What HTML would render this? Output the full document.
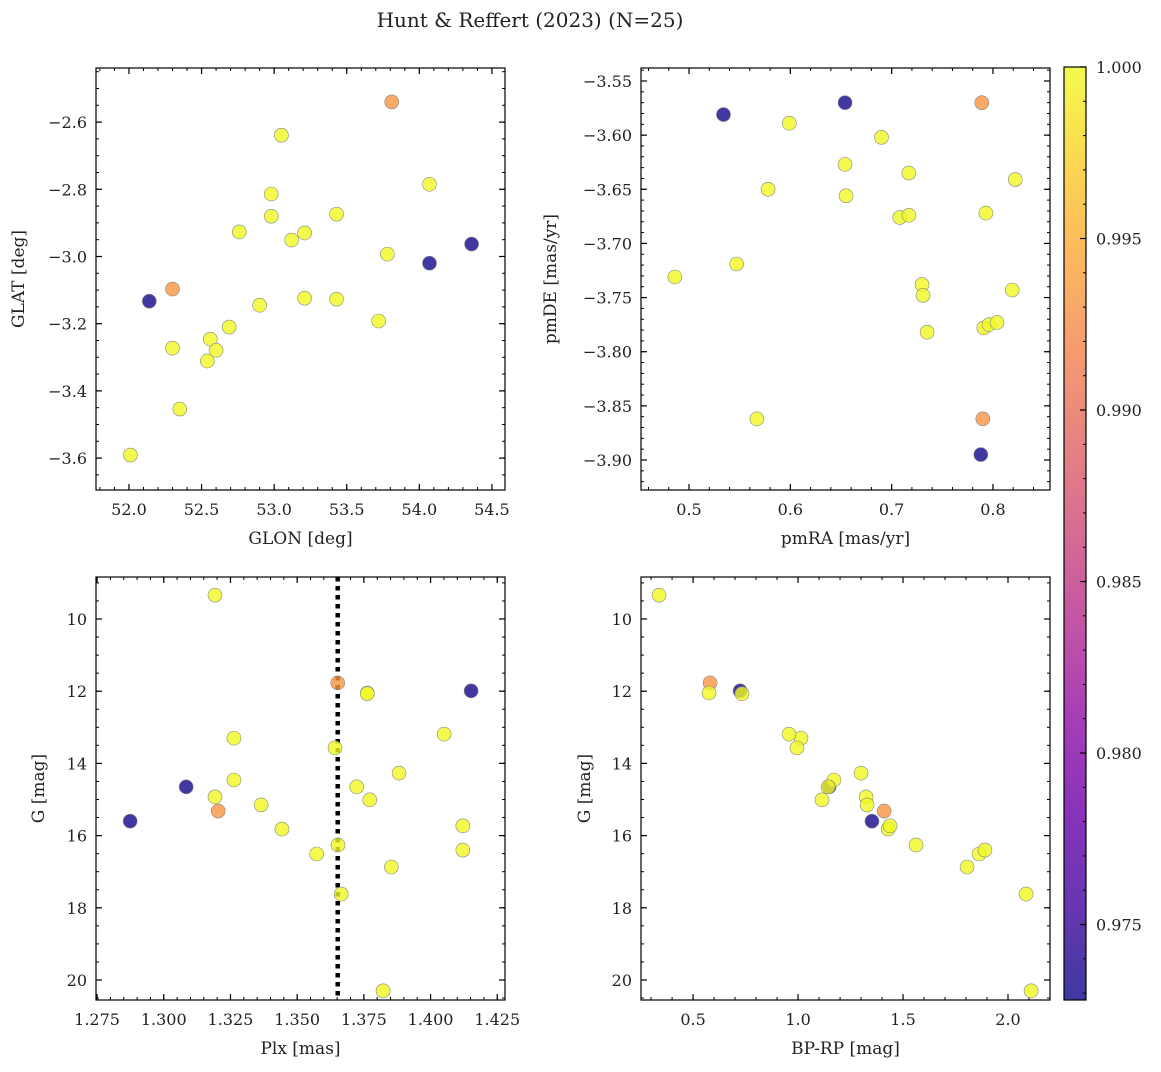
<!DOCTYPE html>
<html><head><meta charset="utf-8"><style>
body{margin:0;background:#fff;}
svg text{font-family:"DejaVu Serif","Liberation Serif",serif;fill:#222;}
</style></head><body>
<svg id="fig" width="1161" height="1067" xmlns="http://www.w3.org/2000/svg">
<text x="530" y="27" font-size="20" text-anchor="middle">Hunt &amp; Reffert (2023) (N=25)</text>
</svg>
<script>
const prob=[0.973,0.973,0.973,0.9932,0.9932,1,1,1,1,1,1,1,1,1,1,1,1,1,1,1,1,1,1,1,1];
const glon=[52.14,54.07,54.36,53.81,52.30,53.05,52.98,52.98,52.76,53.12,53.21,53.43,54.07,53.78,53.21,53.43,53.72,52.90,52.69,52.56,52.60,52.30,52.54,52.35,52.01];
const glat=[-3.133,-3.020,-2.963,-2.540,-3.097,-2.639,-2.814,-2.880,-2.927,-2.951,-2.930,-2.874,-2.785,-2.993,-3.124,-3.127,-3.192,-3.145,-3.210,-3.246,-3.279,-3.273,-3.311,-3.454,-3.591];
const pmra=[0.534,0.654,0.788,0.789,0.790,0.599,0.690,0.654,0.655,0.717,0.822,0.578,0.708,0.717,0.793,0.486,0.547,0.730,0.731,0.735,0.819,0.791,0.796,0.804,0.567];
const pmde=[-3.581,-3.570,-3.895,-3.570,-3.862,-3.589,-3.602,-3.627,-3.656,-3.635,-3.641,-3.650,-3.676,-3.674,-3.672,-3.731,-3.719,-3.738,-3.748,-3.782,-3.743,-3.778,-3.775,-3.773,-3.862];
const plx=[1.2874,1.3084,1.4152,1.3652,1.3204,1.3192,1.3763,1.3763,1.3263,1.4051,1.3642,1.3263,1.3882,1.3723,1.3192,1.3772,1.3365,1.3443,1.4121,1.3573,1.3653,1.4121,1.3853,1.3665,1.3822];
const gmag=[15.60,14.65,11.99,11.77,15.32,9.34,12.05,12.07,13.30,13.19,13.57,14.46,14.27,14.65,14.93,15.01,15.15,15.82,15.73,16.51,16.26,16.40,16.87,17.62,20.30];
const bprp=[1.352,1.148,0.724,0.581,1.410,0.338,0.576,0.733,1.014,0.957,0.995,1.171,1.300,1.143,1.324,1.114,1.329,1.429,1.438,1.862,1.562,1.890,1.805,2.086,2.110];
const plxRef=1.3652;
const cmin=0.9728,cmax=1.0;

const NS="http://www.w3.org/2000/svg";
const svg=document.getElementById('fig');
function el(tag,attrs,parent){const e=document.createElementNS(NS,tag);for(const k in attrs)e.setAttribute(k,attrs[k]);(parent||svg).appendChild(e);return e;}
const stops=[[0,[13,8,135]],[.1,[65,4,157]],[.2,[106,0,168]],[.3,[143,13,164]],[.4,[177,42,144]],[.5,[204,71,120]],[.6,[225,100,98]],[.7,[242,132,75]],[.8,[252,166,54]],[.9,[252,206,37]],[1,[240,249,33]]];
function plasma(t){t=Math.max(0,Math.min(1,t));for(let i=1;i<stops.length;i++){if(t<=stops[i][0]){const a=stops[i-1],b=stops[i];const f=(t-a[0])/(b[0]-a[0]);const c=a[1].map((v,j)=>Math.round(v+(b[1][j]-v)*f));return `rgb(${c})`;}}return 'rgb(240,249,33)';}
function dec(v,d){return v.toFixed(d).replace('-','\u2212');}

function panel(o){
  const g=el('g',{});
  
  
  const sx=v=>o.x0+(v-o.xr[0])/(o.xr[1]-o.xr[0])*(o.x1-o.x0);
  const sy=o.yinv?(v=>o.y0+(v-o.yr[0])/(o.yr[1]-o.yr[0])*(o.y1-o.y0)):(v=>o.y1-(v-o.yr[0])/(o.yr[1]-o.yr[0])*(o.y1-o.y0));
  function ticks(lo,hi,step){const a=[];const s=Math.ceil(lo/step-1e-9);for(let i=s;i*step<=hi+1e-9;i++)a.push(+(i*step).toFixed(6));return a;}
  ticks(o.xr[0],o.xr[1],o.xminor).forEach(v=>{const x=sx(v);el('line',{x1:x,x2:x,y1:o.y1,y2:o.y1-3,stroke:'#000','stroke-width':1},g);el('line',{x1:x,x2:x,y1:o.y0,y2:o.y0+3,stroke:'#000','stroke-width':1},g);});
  ticks(Math.min(o.yr[0],o.yr[1]),Math.max(o.yr[0],o.yr[1]),o.yminor).forEach(v=>{const y=sy(v);el('line',{x1:o.x0,x2:o.x0+3,y1:y,y2:y,stroke:'#000','stroke-width':1},g);el('line',{x1:o.x1,x2:o.x1-3,y1:y,y2:y,stroke:'#000','stroke-width':1},g);});
  ticks(o.xr[0],o.xr[1],o.xmajor).forEach(v=>{const x=sx(v);el('line',{x1:x,x2:x,y1:o.y1,y2:o.y1-6,stroke:'#000','stroke-width':1.2},g);el('line',{x1:x,x2:x,y1:o.y0,y2:o.y0+6,stroke:'#000','stroke-width':1.2},g);
    const t=el('text',{x:x,y:o.y1+25,'font-size':16,'text-anchor':'middle'},g);t.textContent=dec(v,o.xd);
    
    });
  ticks(Math.min(o.yr[0],o.yr[1]),Math.max(o.yr[0],o.yr[1]),o.ymajor).forEach(v=>{const y=sy(v);el('line',{x1:o.x0,x2:o.x0+6,y1:y,y2:y,stroke:'#000','stroke-width':1.2},g);el('line',{x1:o.x1,x2:o.x1-6,y1:y,y2:y,stroke:'#000','stroke-width':1.2},g);
    const t=el('text',{x:o.x0-9,y:y+6,'font-size':16,'text-anchor':'end'},g);t.textContent=dec(v,o.yd);
    
    });
  if(o.vline!==undefined){const x=sx(o.vline);const l=el('line',{x1:x,x2:x,y1:o.y0,y2:o.y1,stroke:'#000','stroke-width':4.5,'stroke-dasharray':'4.5,4.5'},g);
    
    }
  for(let i=0;i<o.xs.length;i++){const c=el('circle',{cx:sx(o.xs[i]),cy:sy(o.ys[i]),r:7,fill:plasma((prob[i]-cmin)/(cmax-cmin)),'fill-opacity':0.8,stroke:'#888','stroke-width':0.6},g);
    
    }
  el('rect',{x:o.x0,y:o.y0,width:o.x1-o.x0,height:o.y1-o.y0,fill:'none',stroke:'#000','stroke-width':1.2},g);
  const xl=el('text',{x:(o.x0+o.x1)/2,y:o.y1+54,'font-size':17,'text-anchor':'middle'},g);xl.textContent=o.xlabel;
  
  
  const cy=(o.y0+o.y1)/2;const yl=el('text',{x:o.ylx,y:cy,'font-size':17,'text-anchor':'middle',transform:`rotate(-90 ${o.ylx} ${cy})`},g);yl.textContent=o.ylabel;
  
  
}
panel({name:'glon-glat-panel',x0:96,x1:505,y0:68,y1:490,xr:[51.773,54.59],yr:[-3.695,-2.439],xmajor:0.5,xminor:0.1,ymajor:0.2,yminor:0.05,xd:1,yd:1,xs:glon,ys:glat,xlabel:'GLON [deg]',ylabel:'GLAT [deg]',ylx:24});
panel({name:'proper-motion-panel',x0:641,x1:1050,y0:68,y1:490,xr:[0.4526,0.8563],yr:[-3.9277,-3.538],xmajor:0.1,xminor:0.02,ymajor:0.05,yminor:0.01,xd:1,yd:2,xs:pmra,ys:pmde,xlabel:'pmRA [mas/yr]',ylabel:'pmDE [mas/yr]',ylx:556});
panel({name:'parallax-mag-panel',x0:96,x1:505,y0:577,y1:1000,xr:[1.2746,1.4279],yr:[8.837,20.554],yinv:true,xmajor:0.025,xminor:0.005,ymajor:2,yminor:0.5,xd:3,yd:0,xs:plx,ys:gmag,xlabel:'Plx [mas]',ylabel:'G [mag]',ylx:44,vline:plxRef});
panel({name:'cmd-panel',x0:641,x1:1050,y0:577,y1:1000,xr:[0.252,2.2],yr:[8.837,20.554],yinv:true,xmajor:0.5,xminor:0.1,ymajor:2,yminor:0.5,xd:1,yd:0,xs:bprp,ys:gmag,xlabel:'BP-RP [mag]',ylabel:'G [mag]',ylx:590});
const defs=el('defs',{});const lg=el('linearGradient',{id:'pl',x1:0,y1:1,x2:0,y2:0},defs);
stops.forEach(s=>el('stop',{offset:s[0],'stop-color':`rgb(${s[1]})`},lg));
const cb=el('g',{});


el('rect',{x:1064,y:67,width:22,height:933,fill:'url(#pl)','fill-opacity':0.8},cb);
el('rect',{x:1064,y:67,width:22,height:933,fill:'none',stroke:'#000','stroke-width':1.2},cb);
const cy=v=>1000-(v-cmin)/(cmax-cmin)*933;
for(let k=973;k<=1000;k++){const v=k/1000;const y=cy(v);el('line',{x1:1086,x2:1083,y1:y,y2:y,stroke:'#000','stroke-width':1},cb);}
[0.975,0.98,0.985,0.99,0.995,1.0].forEach(v=>{const y=cy(v);el('line',{x1:1086,x2:1080,y1:y,y2:y,stroke:'#000','stroke-width':1.2},cb);
  const t=el('text',{x:1096,y:y+6,'font-size':16},cb);t.textContent=v.toFixed(3);
  
  });
</script>
</body></html>
